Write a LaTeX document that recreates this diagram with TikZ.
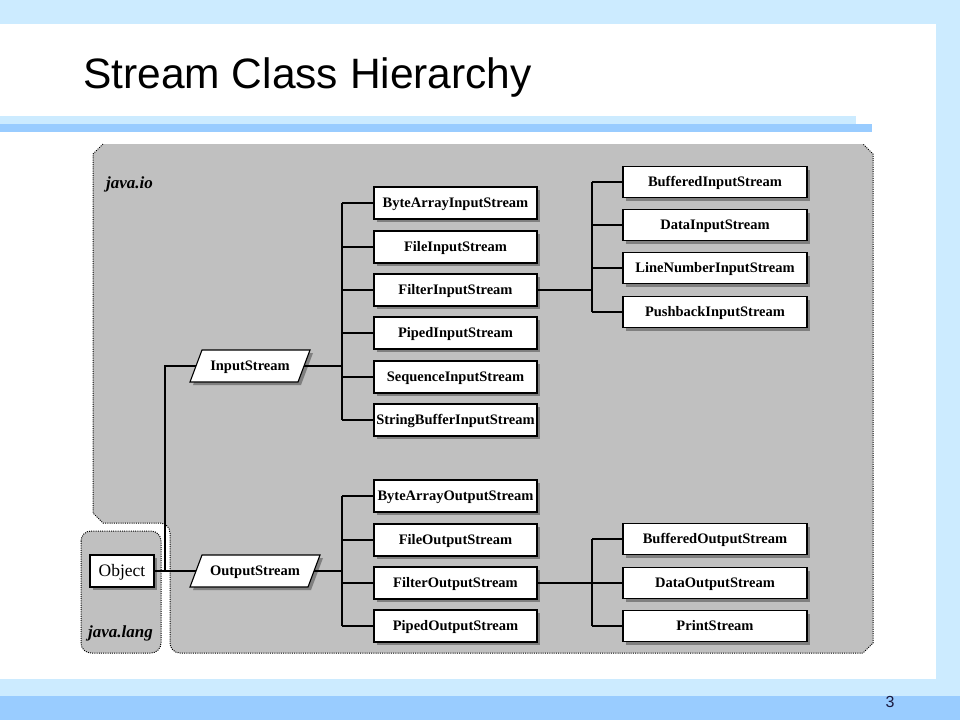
\documentclass[tikz,border=0pt]{standalone}
\usepackage{fontspec}
\setmainfont{Liberation Serif}
\newfontfamily\sansf{Liberation Sans}
\usetikzlibrary{shadows,calc}
\definecolor{lightblue}{HTML}{CCEBFF}
\definecolor{midblue}{HTML}{99CCFF}
\definecolor{panelgray}{HTML}{C0C0C0}
\definecolor{shadowgray}{HTML}{7F7F7F}
\definecolor{navy}{HTML}{1A1A40}
\tikzset{
  cls/.style={draw=black, line width=1.1pt, fill=white, minimum height=32pt, inner sep=0pt,
    text height=9.5pt, text depth=0.5pt,
    font=\bfseries\fontsize{14.5}{15}\selectfont,
    general shadow={fill=shadowgray, shadow xshift=3pt, shadow yshift=-3pt}},
  clsA/.style={cls, minimum width=163pt},
  clsB/.style={cls, minimum width=184pt, minimum height=31pt},
  ptext/.style={inner sep=0pt, minimum height=32pt, text height=9.5pt, text depth=0.5pt,
    font=\bfseries\fontsize{14.5}{15}\selectfont},
  pgshadow/.style={fill=shadowgray},
  pgbody/.style={fill=white, draw=black, line width=1.1pt},
  conn/.style={line width=1.1pt, black},
  dotb/.style={black, line width=1pt, dash pattern=on 1pt off 1.2pt},
  pkg/.style={font=\bfseries\itshape\fontsize{17}{17}\selectfont, anchor=base west, inner sep=0pt},
}
\begin{document}
\begin{tikzpicture}[x=1pt,y=-1pt]
% slide background
\fill[lightblue] (0,0) rectangle (960,720);
\useasboundingbox (0,0) rectangle (960,720);
\fill[white] (0,24) rectangle (936,679);
\fill[midblue] (0,696) rectangle (960,720);
\fill[lightblue] (0,116) rectangle (856,124);
\fill[midblue] (0,124) rectangle (872,132);
\node[anchor=base west, inner sep=0pt, font=\sansf\fontsize{42.5}{42}\selectfont] (title) at (83,88) {Stream Class Hierarchy};
\node[font=\sansf\fontsize{16}{16}\selectfont, text=navy] (pagenum) at (890,702) {3};

% java.io panel
\fill[panelgray] (103,144) -- (863,144) -- (873,154) -- (873,643) -- (863,653) -- (180,653)
  .. controls (174.5,653) and (170,648.5) .. (170,643) -- (170,533)
  .. controls (170,527.5) and (165.5,523) .. (160,523) -- (103,523) -- (93,513) -- (93,154) -- cycle;
\draw[dotb] (103,144) -- (93,154) -- (93,513) -- (103,523) -- (160,523)
  .. controls (165.5,523) and (170,527.5) .. (170,533) -- (170,643)
  .. controls (170,648.5) and (174.5,653) .. (180,653) -- (863,653) -- (873,643) -- (873,154) -- (863,144);
% java.lang panel
\fill[panelgray, rounded corners=10pt] (81,531) rectangle (161,653);
\draw[dotb, rounded corners=10pt] (81,531) rectangle (161,653);

\node[pkg] (jio) at (106,188) {java.io};
\node[pkg] (jlang) at (88,637) {java.lang};

% parallelograms
\begin{scope}[shift={(250,366)}]
  \fill[pgshadow] (-45,-13) -- (63,-13) -- (51,19) -- (-57,19) -- cycle;
  \filldraw[pgbody] (-48,-16) -- (60,-16) -- (48,16) -- (-60,16) -- cycle;
\end{scope}
\begin{scope}[shift={(255,571)}]
  \fill[pgshadow] (-50,-13) -- (68,-13) -- (56,19) -- (-62,19) -- cycle;
  \filldraw[pgbody] (-53,-16) -- (65,-16) -- (53,16) -- (-65,16) -- cycle;
\end{scope}
\node[ptext, minimum width=108pt] (is) at (250,366) {InputStream};
\node[ptext, minimum width=118pt] (os) at (255,571) {OutputStream};

% Object
\node[cls, minimum width=64pt, text height=12pt, font=\fontsize{17.5}{18}\selectfont] (obj) at (122,571) {Object};

% input column
\node[clsA] (bais) at (455.5,203) {ByteArrayInputStream};
\node[clsA] (fis)  at (455.5,247) {FileInputStream};
\node[clsA] (flis) at (455.5,290) {FilterInputStream};
\node[clsA] (pis)  at (455.5,333) {PipedInputStream};
\node[clsA] (sis)  at (455.5,377) {SequenceInputStream};
\node[clsA] (sbis) at (455.5,420) {StringBufferInputStream};
% filter input column
\node[clsB] (bfis) at (715,182) {BufferedInputStream};
\node[clsB] (dis)  at (715,225) {DataInputStream};
\node[clsB] (lnis) at (715,268) {LineNumberInputStream};
\node[clsB] (pbis) at (715,312) {PushbackInputStream};
% output column
\node[clsA] (baos) at (455.5,496) {ByteArrayOutputStream};
\node[clsA] (fos)  at (455.5,540) {FileOutputStream};
\node[clsA] (flos) at (455.5,583) {FilterOutputStream};
\node[clsA] (pos)  at (455.5,626) {PipedOutputStream};
% filter output column
\node[clsB] (bfos) at (715,539) {BufferedOutputStream};
\node[clsB] (dos)  at (715,583) {DataOutputStream};
\node[clsB] (ps)   at (715,626) {PrintStream};

% trunks
\coordinate (jn) at (165,571);
\coordinate (itr) at (342,366);
\coordinate (otr) at (342,571);
\coordinate (fitr) at (592,290);
\coordinate (fotr) at (592,583);

\draw[conn] (obj.east) -- (os.west);
\draw[conn] (jn) |- (is.west);

\draw[conn] (is.east) -- (itr);
\draw[conn] (itr |- bais.west) -- (itr |- sbis.west);
\foreach \n in {bais,fis,flis,pis,sis,sbis} \draw[conn] (itr |- \n.west) -- (\n.west);

\draw[conn] (flis.east) -- (fitr);
\draw[conn] (fitr |- bfis.west) -- (fitr |- pbis.west);
\foreach \n in {bfis,dis,lnis,pbis} \draw[conn] (fitr |- \n.west) -- (\n.west);

\draw[conn] (os.east) -- (otr);
\draw[conn] (otr |- baos.west) -- (otr |- pos.west);
\foreach \n in {baos,fos,flos,pos} \draw[conn] (otr |- \n.west) -- (\n.west);

\draw[conn] (flos.east) -- (fotr);
\draw[conn] (fotr |- bfos.west) -- (fotr |- ps.west);
\foreach \n in {bfos,dos,ps} \draw[conn] (fotr |- \n.west) -- (\n.west);
\end{tikzpicture}
\end{document}
